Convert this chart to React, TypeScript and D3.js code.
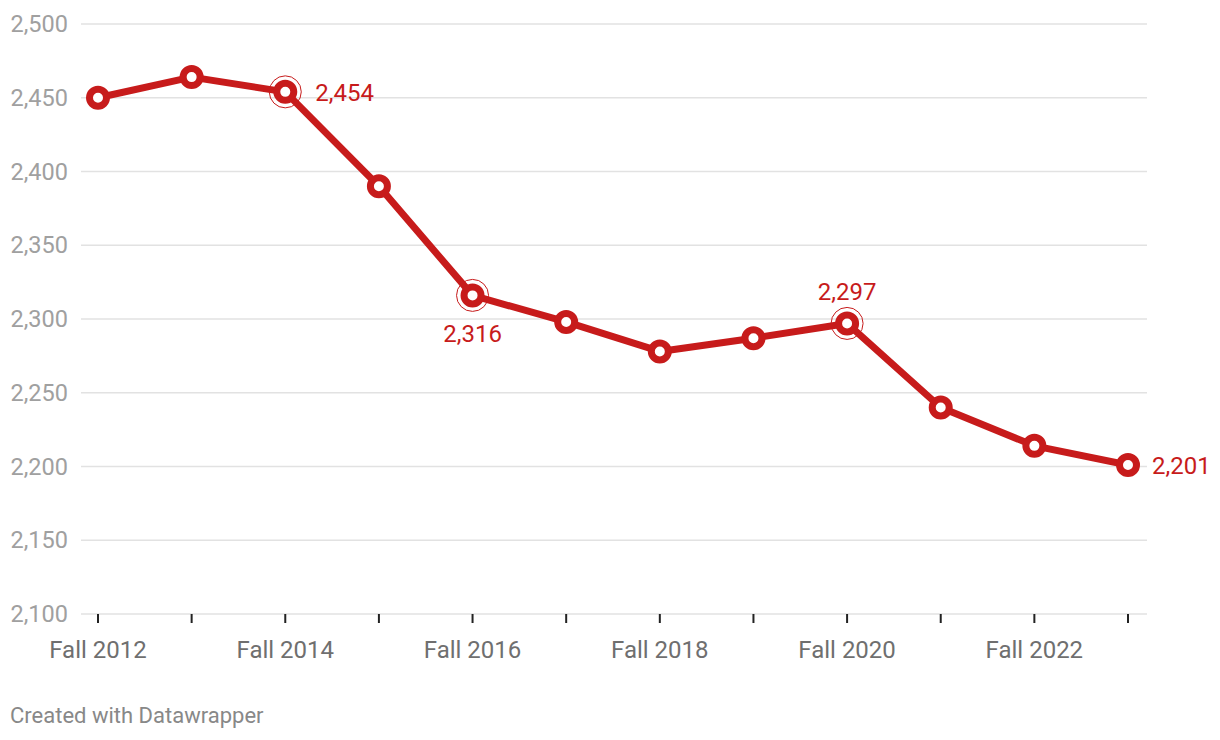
import React from "react";
import * as d3 from "d3";

const years = [2012, 2013, 2014, 2015, 2016, 2017, 2018, 2019, 2020, 2021, 2022, 2023];
const values = [2450, 2464, 2454, 2390, 2316, 2298, 2278, 2287, 2297, 2240, 2214, 2201];
const yTicks = [2100, 2150, 2200, 2250, 2300, 2350, 2400, 2450, 2500];
const xLabelYears = [2012, 2014, 2016, 2018, 2020, 2022];
const highlights = [
  { year: 2014, pos: "right" },
  { year: 2016, pos: "below" },
  { year: 2020, pos: "above" },
  { year: 2023, pos: "right" },
];
const ringed = [2014, 2016, 2020];

const W = 1220;
const H = 740;
const RED = "#c71b1b";
const FONT = "Roboto, 'Noto Sans', sans-serif";

export default function App() {
  const x = d3.scaleLinear().domain([2012, 2023]).range([98, 1128]);
  const y = d3.scaleLinear().domain([2100, 2500]).range([614, 24]);
  const fmt = d3.format(",");
  const data = years.map((yr, i) => ({ yr, v: values[i] }));
  const line = d3
    .line<{ yr: number; v: number }>()
    .x((d) => x(d.yr))
    .y((d) => y(d.v));

  return (
    <svg
      width={W}
      height={H}
      style={{ position: "absolute", left: 0, top: 0, background: "#fff" }}
      fontFamily={FONT}
    >
      {yTicks.map((t) => (
        <g key={t}>
          <line x1={81} x2={1147} y1={y(t)} y2={y(t)} stroke="#e2e2e2" strokeWidth={1.5} />
          <text x={68} y={y(t)} dy="0.35em" textAnchor="end" fontSize={23.5} fill="#a0a0a0">
            {fmt(t)}
          </text>
        </g>
      ))}
      {years.map((yr) => (
        <line key={yr} x1={x(yr)} x2={x(yr)} y1={614} y2={623} stroke="#222" strokeWidth={2} />
      ))}
      {xLabelYears.map((yr) => (
        <text key={yr} x={x(yr)} y={658} textAnchor="middle" fontSize={24} fill="#6f6f6f">
          {"Fall " + yr}
        </text>
      ))}
      <path d={line(data) || ""} fill="none" stroke={RED} strokeWidth={7} strokeLinejoin="round" />
      {data
        .filter((d) => ringed.includes(d.yr))
        .map((d) => (
          <circle key={"r" + d.yr} cx={x(d.yr)} cy={y(d.v)} r={16} fill="none" stroke={RED} strokeWidth={1} />
        ))}
      {data.map((d) => (
        <circle key={d.yr} cx={x(d.yr)} cy={y(d.v)} r={8.5} fill="#fff" stroke={RED} strokeWidth={7} />
      ))}
      {highlights.map((h) => {
        const v = values[years.indexOf(h.year)];
        const cx = x(h.year);
        const cy = y(v);
        let tx = cx, ty = cy, anchor: "start" | "middle" = "middle";
        if (h.pos === "right") {
          tx = cx + (ringed.includes(h.year) ? 30 : 24);
          ty = cy + 9;
          anchor = "start";
        } else if (h.pos === "below") {
          ty = cy + 47;
        } else {
          ty = cy - 23;
        }
        return (
          <text key={"l" + h.year} x={tx} y={ty} textAnchor={anchor} fontSize={24} fill={RED}>
            {fmt(v)}
          </text>
        );
      })}
      <text x={10} y={723} fontSize={22} fill="#888">
        Created with Datawrapper
      </text>
    </svg>
  );
}
